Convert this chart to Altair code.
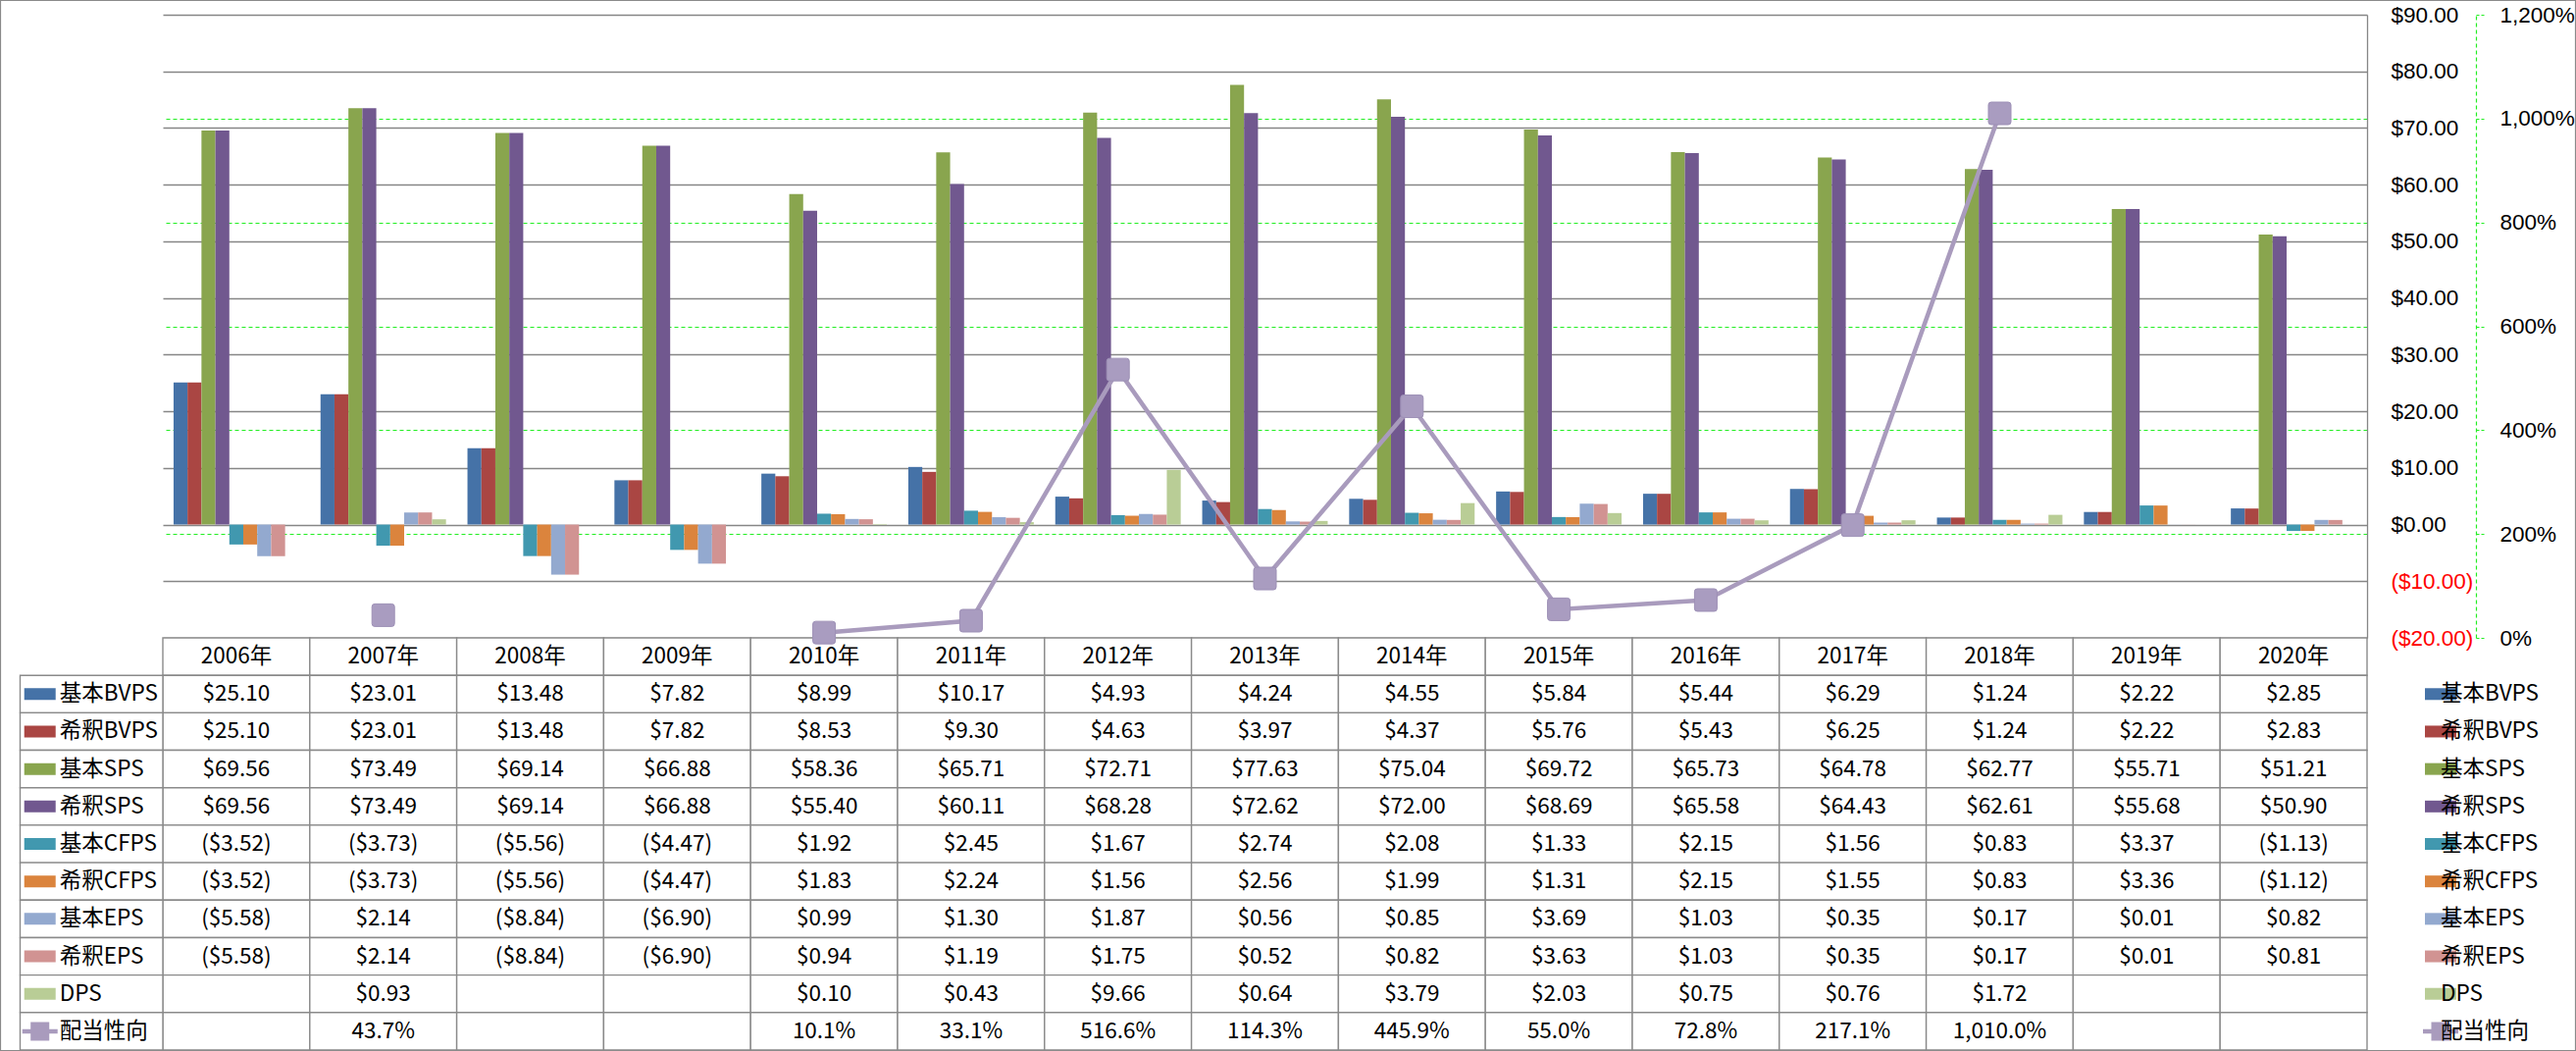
import altair as alt
import pandas as pd

# ---------------- data ----------------
years = ["2006年", "2007年", "2008年", "2009年", "2010年", "2011年", "2012年", "2013年",
         "2014年", "2015年", "2016年", "2017年", "2018年", "2019年", "2020年"]

series = ["基本BVPS", "希釈BVPS", "基本SPS", "希釈SPS", "基本CFPS", "希釈CFPS",
          "基本EPS", "希釈EPS", "DPS"]

basic_bvps = [25.10, 23.01, 13.48, 7.82, 8.99, 10.17, 4.93, 4.24, 4.55, 5.84, 5.44, 6.29, 1.24, 2.22, 2.85]
dil_bvps = [25.10, 23.01, 13.48, 7.82, 8.53, 9.30, 4.63, 3.97, 4.37, 5.76, 5.43, 6.25, 1.24, 2.22, 2.83]
basic_sps = [69.56, 73.49, 69.14, 66.88, 58.36, 65.71, 72.71, 77.63, 75.04, 69.72, 65.73, 64.78, 62.77, 55.71, 51.21]
dil_sps = [69.56, 73.49, 69.14, 66.88, 55.40, 60.11, 68.28, 72.62, 72.00, 68.69, 65.58, 64.43, 62.61, 55.68, 50.90]
basic_cfps = [-3.52, -3.73, -5.56, -4.47, 1.92, 2.45, 1.67, 2.74, 2.08, 1.33, 2.15, 1.56, 0.83, 3.37, -1.13]
dil_cfps = [-3.52, -3.73, -5.56, -4.47, 1.83, 2.24, 1.56, 2.56, 1.99, 1.31, 2.15, 1.55, 0.83, 3.36, -1.12]
basic_eps = [-5.58, 2.14, -8.84, -6.90, 0.99, 1.30, 1.87, 0.56, 0.85, 3.69, 1.03, 0.35, 0.17, 0.01, 0.82]
dil_eps = [-5.58, 2.14, -8.84, -6.90, 0.94, 1.19, 1.75, 0.52, 0.82, 3.63, 1.03, 0.35, 0.17, 0.01, 0.81]
dps = [None, 0.93, None, None, 0.10, 0.43, 9.66, 0.64, 3.79, 2.03, 0.75, 0.76, 1.72, None, None]
payout = [None, 43.7, None, None, 10.1, 33.1, 516.6, 114.3, 445.9, 55.0, 72.8, 217.1, 1010.0, None, None]

ratio_name = "配当性向"

bar_colors = ["#4572A7", "#AA4643", "#89A54E", "#71588F", "#4198AF",
              "#DB843D", "#93A9CF", "#D19392", "#B9CD96"]
line_color = "#A99BBD"

money_ticks = list(range(-20, 91, 10))
pct_ticks = list(range(0, 1201, 200))

# ---------------- styling ----------------
FONT = "Noto Sans CJK JP"
AXFONT = "Liberation Sans"
FS = 22.5
GRID = "#868686"
GREEN = "#22EE22"
W, H = 2247, 1055
PLOT_H = 635

series_values = [basic_bvps, dil_bvps, basic_sps, dil_sps, basic_cfps,
                 dil_cfps, basic_eps, dil_eps, dps]
rows = series + [ratio_name]
table_rows = ["header"] + rows
all_colors = bar_colors + [line_color]


def money(v):
    if v is None:
        return ""
    return f"(${abs(v):.2f})" if v < 0 else f"${v:.2f}"


def pct(v):
    return "" if v is None else f"{v:,.1f}%"


# long data for bars
bar_records = []
for s, vals in zip(series, series_values):
    for yr, v in zip(years, vals):
        if v is not None:
            bar_records.append({"year": yr, "series": s, "value": v})
bars_df = pd.DataFrame(bar_records)

# line data (contiguous segments)
line_records = []
seg = 0
for yr, v in zip(years, payout):
    if v is None:
        seg += 1
    else:
        line_records.append({"year": yr, "ratio": v, "seg": seg})
line_df = pd.DataFrame(line_records)

# table data
cell_records = [{"year": yr, "row": "header", "text": yr} for yr in years]
for s, vals in zip(series, series_values):
    for yr, v in zip(years, vals):
        cell_records.append({"year": yr, "row": s, "text": money(v)})
for yr, v in zip(years, payout):
    cell_records.append({"year": yr, "row": ratio_name, "text": pct(v)})
cells_df = pd.DataFrame(cell_records)

label_df = pd.DataFrame({"row": rows, "col": ["lbl"] * len(rows)})
legend_df = pd.DataFrame({"row": rows, "col": ["leg"] * len(rows)})

# ---------------- scales ----------------
x_year = alt.Scale(domain=years, paddingInner=0, paddingOuter=0)
y_money = alt.Scale(domain=[-20, 90], range=[PLOT_H, 0], nice=False, zero=False)
y_pct = alt.Scale(domain=[0, 1200], range=[PLOT_H, 0], nice=False, zero=False)
y_table = alt.Scale(domain=table_rows, range=[PLOT_H, H], paddingInner=0, paddingOuter=0)
color_scale = alt.Scale(domain=rows, range=all_colors)

swatch = "M-1,-0.375H1V0.375H-1Z"
line_sym = "M-1.125,-0.14H-0.594V-0.594H0.594V-0.14H1.125V0.14H0.594V0.594H-0.594V0.14H-1.125Z"
marker = ("M-0.75,-1H0.75Q1,-1,1,-0.75V0.75Q1,1,0.75,1H-0.75Q-1,1,-1,0.75"
          "V-0.75Q-1,-1,-0.75,-1Z")
shape_scale = alt.Scale(domain=rows, range=[swatch] * len(series) + [line_sym])

# ---------------- plot ----------------
money_axis = alt.Axis(
    orient="right", values=money_ticks, format="($.2f", title=None,
    grid=True, gridColor=GRID, gridWidth=1.3,
    domain=True, domainColor=GRID, domainWidth=1.3,
    ticks=False, tickSize=0, labelPadding=24, labelAlign="left",
    labelFont=AXFONT, labelFontSize=FS,
    labelColor=alt.condition("datum.value < 0", alt.value("#FF0000"), alt.value("#000000")),
)

pct_axis = alt.Axis(
    orient="right", offset=111, values=pct_ticks, title=None,
    labelExpr="format(datum.value, ',') + '%'",
    grid=True, gridColor=GREEN, gridDash=[4, 3], gridWidth=1.2,
    gridOpacity=alt.condition("datum.value == 0 || datum.value == 1200", alt.value(0), alt.value(1)),
    domain=True, domainColor=GREEN, domainDash=[4, 3], domainWidth=1.2,
    ticks=True, tickColor=GREEN, tickDash=[3, 2], tickSize=8, tickWidth=1.2,
    labelPadding=16, labelAlign="left", labelColor="#000000",
    labelFont=AXFONT, labelFontSize=FS,
)

bars = alt.Chart(bars_df).mark_bar().encode(
    x=alt.X("year:N", scale=x_year, axis=None),
    xOffset=alt.XOffset("series:N", scale=alt.Scale(domain=series, paddingInner=0, paddingOuter=0.77)),
    y=alt.Y("value:Q", scale=y_money, axis=money_axis),
    color=alt.Color("series:N", scale=color_scale, legend=None),
)

line = alt.Chart(line_df).mark_line(color=line_color, strokeWidth=4.5).encode(
    x=alt.X("year:N", scale=x_year, axis=None),
    y=alt.Y("ratio:Q", scale=y_pct, axis=pct_axis),
    detail="seg:N",
)
points = alt.Chart(line_df).mark_point(
    shape=marker, size=529, filled=True, fill="#A99CC0", stroke="#9D90B6",
    strokeWidth=1, opacity=1,
).encode(
    x=alt.X("year:N", scale=x_year, axis=None),
    y=alt.Y("ratio:Q", scale=y_pct, axis=pct_axis),
)
line_group = alt.layer(line, points)

# ---------------- table ----------------
table_cells = alt.Chart(cells_df).mark_rect(fill="white", stroke="#8A8A8A", strokeWidth=1.4).encode(
    x=alt.X("year:N", scale=x_year, axis=None),
    y=alt.Y("row:N", scale=y_table, axis=None),
)
table_text = alt.Chart(cells_df).mark_text(font=FONT, fontSize=FS, color="#000000").encode(
    x=alt.X("year:N", scale=x_year, axis=None),
    y=alt.Y("row:N", scale=y_table, axis=None),
    text="text:N",
)
table_group = alt.layer(table_cells, table_text)

lbl_scale = alt.Scale(domain=["lbl"], range=[-145.5, 0], paddingInner=0, paddingOuter=0)
label_cells = alt.Chart(label_df).mark_rect(fill="white", stroke="#8A8A8A", strokeWidth=1.4).encode(
    x=alt.X("col:N", scale=lbl_scale, axis=None),
    y=alt.Y("row:N", scale=y_table, axis=None),
)
label_sw = alt.Chart(label_df).mark_point(filled=True, size=1024, opacity=1).encode(
    x=alt.X("col:N", scale=lbl_scale, axis=None, bandPosition=0.139),
    y=alt.Y("row:N", scale=y_table, axis=None),
    color=alt.Color("row:N", scale=color_scale, legend=None),
    shape=alt.Shape("row:N", scale=shape_scale, legend=None),
)
label_txt = alt.Chart(label_df).mark_text(font=FONT, fontSize=FS, align="left", color="#000000").encode(
    x=alt.X("col:N", scale=lbl_scale, axis=None, bandPosition=0.277),
    y=alt.Y("row:N", scale=y_table, axis=None),
    text="row:N",
)
label_group = alt.layer(label_cells, label_sw, label_txt)

leg_scale = alt.Scale(domain=["leg"], range=[W, W + 150], paddingInner=0, paddingOuter=0)
legend_sw = alt.Chart(legend_df).mark_point(filled=True, size=1024, opacity=1).encode(
    x=alt.X("col:N", scale=leg_scale, axis=None, bandPosition=0.198),
    y=alt.Y("row:N", scale=y_table, axis=None),
    color=alt.Color("row:N", scale=color_scale, legend=None),
    shape=alt.Shape("row:N", scale=shape_scale, legend=None),
)
legend_txt = alt.Chart(legend_df).mark_text(font=FONT, fontSize=FS, align="left", color="#000000").encode(
    x=alt.X("col:N", scale=leg_scale, axis=None, bandPosition=0.331),
    y=alt.Y("row:N", scale=y_table, axis=None),
    text="row:N",
)
legend_group = alt.layer(legend_sw, legend_txt)

frame = alt.Chart(pd.DataFrame({"f": [0]})).mark_rect(
    fillOpacity=0, stroke="#8A8A8A", strokeWidth=1.2
).encode(
    x=alt.value(-165.5), x2=alt.value(W + 212.5),
    y=alt.value(-14.5), y2=alt.value(H + 0.5),
)

chart = alt.layer(
    frame, table_group, label_group, legend_group, bars, line_group
).resolve_scale(
    x="independent", y="independent"
).properties(
    width=W, height=H,
    padding={"left": 166, "top": 15, "right": 213, "bottom": 1},
    autosize=alt.AutoSizeParams(type="none"),
).configure(
    background="white"
).configure_view(
    stroke=None
)

chart.save("out.html", embed_options={"renderer": "svg", "actions": False})
